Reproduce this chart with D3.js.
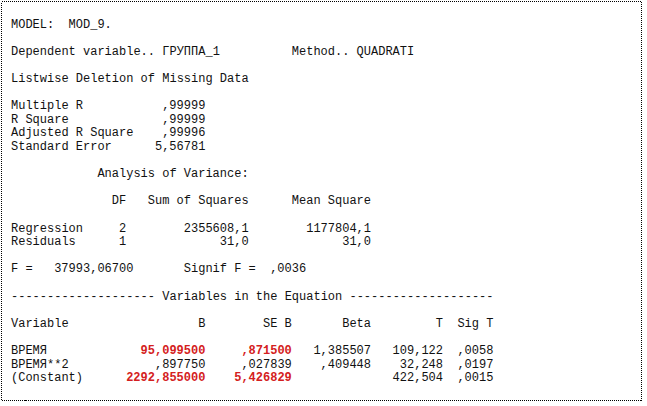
<!DOCTYPE html>
<html><head><meta charset="utf-8">
<script src="https://cdn.jsdelivr.net/npm/d3@7"></script>
<style>
html,body{margin:0;padding:0;background:#fff;}
svg text{font-family:"Liberation Mono","Courier New",monospace;font-size:12px;fill:#111;white-space:pre;}
</style></head>
<body>
<svg id="c" width="647" height="406"></svg>
<script>
// ---- data (SPSS CURVEFIT output) ----
const modelName = "MOD_9.";
const dependentVar = "ГРУППА_1";
const methodName = "QUADRATI";
const fitLabels = ["Multiple R", "R Square", "Adjusted R Square", "Standard Error"];
const fitValues = [",99999", ",99999", ",99996", "5,56781"];
const anovaHeaders = ["DF", "Sum of Squares", "Mean Square"];
const anovaSources = ["Regression", "Residuals"];
const anovaDF = ["2", "1"];
const anovaSS = ["2355608,1", "31,0"];
const anovaMS = ["1177804,1", "31,0"];
const fValue = "37993,06700";
const signifF = ",0036";
const coefHeaders = ["B", "SE B", "Beta", "T", "Sig T"];
const coefVars = ["ВРЕМЯ", "ВРЕМЯ**2", "(Constant)"];
const coefB = ["95,099500", ",897750", "2292,855000"];
const coefSEB = [",871500", ",027839", "5,426829"];
const coefBeta = ["1,385507", ",409448", ""];
const coefT = ["109,122", "32,248", "422,504"];
const coefSigT = [",0058", ",0197", ",0015"];
const highlighted = [true, false, true];

// ---- layout via scales: character columns and text rows ----
const colX = d3.scaleLinear().domain([0, 1]).range([11, 18.2]);
const rowY = d3.scaleLinear().domain([0, 1]).range([27.5, 41.1]);

const tokens = [];
function put(row, col, text, anchor, red) {
  tokens.push({row, col, text, anchor: anchor || "start", red: !!red});
}
put(0, 0, "MODEL:  " + modelName);
put(2, 0, "Dependent variable.. " + dependentVar);
put(2, 39, "Method.. " + methodName);
put(4, 0, "Listwise Deletion of Missing Data");
fitLabels.forEach((l, i) => { put(6 + i, 0, l); put(6 + i, 27, fitValues[i], "end"); });
put(11, 12, "Analysis of Variance:");
const anovaEnds = [16, 33, 50];
anovaHeaders.forEach((h, i) => put(13, anovaEnds[i], h, "end"));
anovaSources.forEach((s, i) => {
  put(15 + i, 0, s);
  put(15 + i, anovaEnds[0], anovaDF[i], "end");
  put(15 + i, anovaEnds[1], anovaSS[i], "end");
  put(15 + i, anovaEnds[2], anovaMS[i], "end");
});
put(18, 0, "F =");
put(18, 17, fValue, "end");
put(18, 24, "Signif F =");
put(18, 41, signifF, "end");
put(20, 0, "-".repeat(20) + " Variables in the Equation " + "-".repeat(20));
put(22, 0, "Variable");
const coefEnds = [27, 39, 50, 60, 67];
coefHeaders.forEach((h, i) => put(22, coefEnds[i], h, "end"));
coefVars.forEach((v, i) => {
  const r = 24 + i;
  put(r, 0, v);
  put(r, coefEnds[0], coefB[i], "end", highlighted[i]);
  put(r, coefEnds[1], coefSEB[i], "end", highlighted[i]);
  if (coefBeta[i]) put(r, coefEnds[2], coefBeta[i], "end");
  put(r, coefEnds[3], coefT[i], "end");
  put(r, coefEnds[4], coefSigT[i], "end");
});

const svg = d3.select("#c");
svg.append("rect")
  .attr("x", 1.5).attr("y", 1.5).attr("width", 640).attr("height", 399)
  .attr("fill", "none").attr("stroke", "#000").attr("stroke-width", 1)
  .attr("stroke-dasharray", "1,1")
  .attr("shape-rendering", "crispEdges");

svg.selectAll("text.t").data(tokens).join("text")
  .attr("class", "t")
  .attr("x", d => colX(d.col))
  .attr("y", d => rowY(d.row))
  .attr("text-anchor", d => d.anchor)
  .style("fill", d => d.red ? "#d42020" : null)
  .style("font-weight", d => d.red ? "bold" : null)
  .text(d => d.text);
</script>
</body></html>
